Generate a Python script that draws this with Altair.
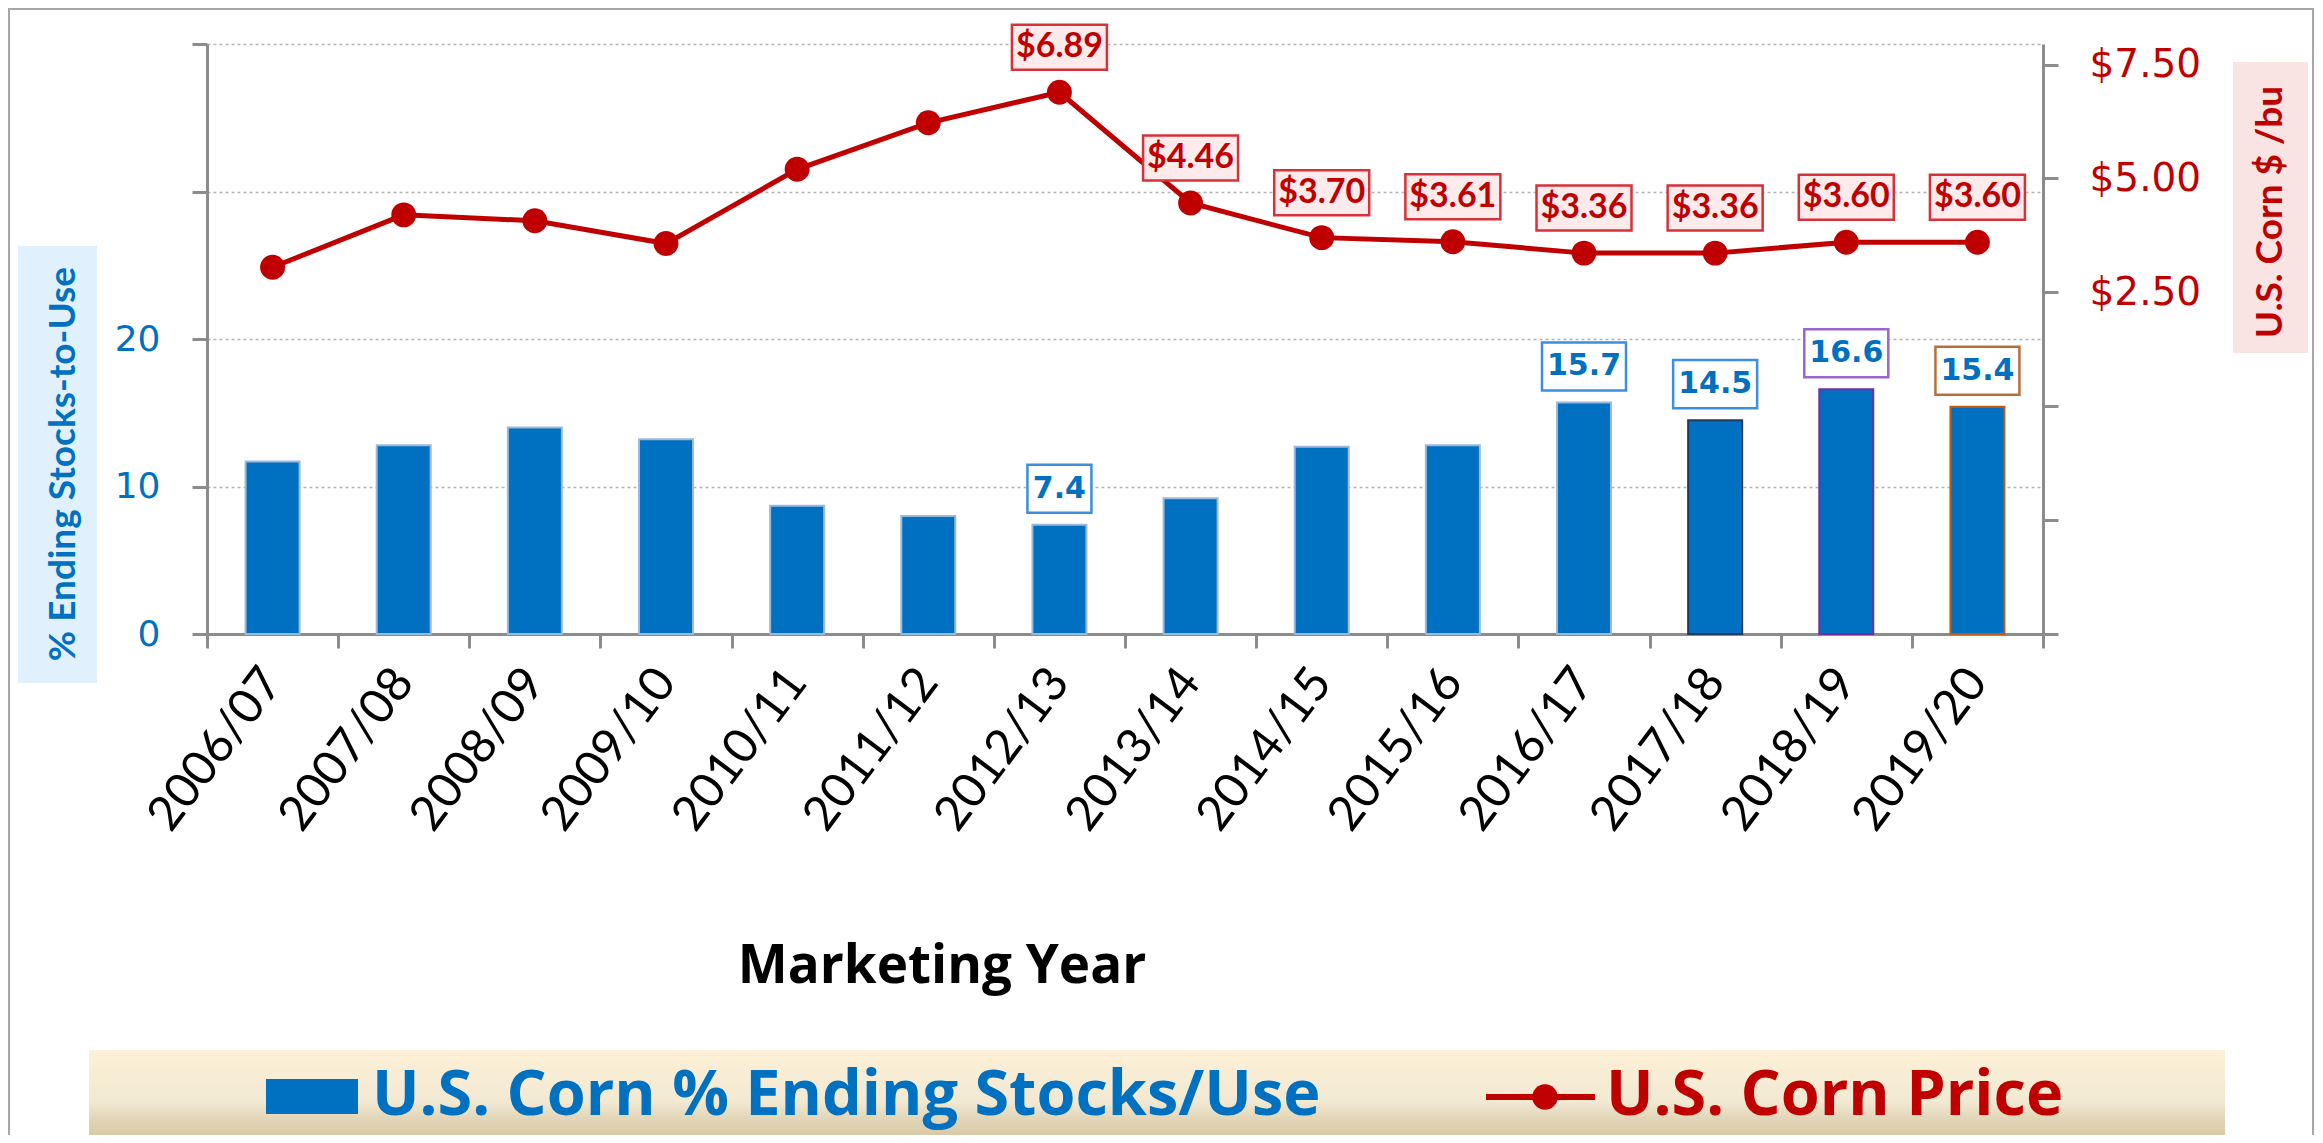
import altair as alt
import pandas as pd

# ---------------- data ----------------
years = ["2006/07", "2007/08", "2008/09", "2009/10", "2010/11", "2011/12", "2012/13",
         "2013/14", "2014/15", "2015/16", "2016/17", "2017/18", "2018/19", "2019/20"]
stocks_to_use = [11.7, 12.8, 14.0, 13.2, 8.7, 8.0, 7.4, 9.2, 12.7, 12.8, 15.7, 14.5, 16.6, 15.4]
corn_price = [3.05, 4.20, 4.07, 3.57, 5.20, 6.22, 6.89, 4.46, 3.70, 3.61, 3.36, 3.36, 3.60, 3.60]
stock_label_years = ["2012/13", "2016/17", "2017/18", "2018/19", "2019/20"]
price_label_years = ["2012/13", "2013/14", "2014/15", "2015/16", "2016/17",
                     "2017/18", "2018/19", "2019/20"]
left_ticks = [0, 10, 20, 30, 40]
right_ticks = [-5, -2.5, 0, 2.5, 5, 7.5]

# ---------------- styles ----------------
BLUE = "#0070c0"
RED = "#c00000"
GREY = "#8c8c8c"
bar_outline_default = "#9db8d9"
bar_outline = {"2017/18": "#1f3864", "2018/19": "#7030a0", "2019/20": "#c55a11"}
stock_box_stroke = {"2012/13": "#3c8fdc", "2016/17": "#3c8fdc", "2017/18": "#3c8fdc",
                    "2018/19": "#9966cc", "2019/20": "#b8703a"}


def box_path(w, h, dy, unit):
    x = w / 2 / unit
    y0 = (dy - h / 2) / unit
    y1 = (dy + h / 2) / unit
    return f"M{-x:.4f},{y0:.4f}L{x:.4f},{y0:.4f}L{x:.4f},{y1:.4f}L{-x:.4f},{y1:.4f}Z"


df = pd.DataFrame({"year": years, "stocks": stocks_to_use, "price": corn_price})
df["outline"] = [bar_outline.get(y, bar_outline_default) for y in years]

sdf = df[df["year"].isin(stock_label_years)].copy()
sdf["label"] = [f"{v:.1f}" for v in sdf["stocks"]]
sdf["boxstroke"] = [stock_box_stroke[y] for y in sdf["year"]]
STOCK_UNIT = 42
sdf["boxshape"] = [box_path(84 if len(l) > 3 else 64, 48, -36, STOCK_UNIT) for l in sdf["label"]]

pdf = df[df["year"].isin(price_label_years)].copy()
pdf["label"] = [f"${v:.2f}" for v in pdf["price"]]
PRICE_UNIT = 47.5
price_shape = box_path(95, 45, -45, PRICE_UNIT)

dummy = pd.DataFrame({"k": [0]})

# ---------------- encodings ----------------
x_axis = alt.Axis(title=None, orient="bottom", labelAngle=-53, labelFont="Lato",
                  labelFontSize=48, labelColor="black", labelPadding=26, labelOverlap=False,
                  labelLimit=0, tickBand="extent", ticks=True, tickSize=14, tickColor=GREY,
                  tickWidth=3, domainColor=GREY, domainWidth=3, grid=False)
X = alt.X("year:N", sort=years,
          scale=alt.Scale(paddingInner=0, paddingOuter=0), axis=x_axis)

left_axis = alt.Axis(orient="left", title=None, values=left_ticks,
                     labelExpr="datum.value <= 20 ? datum.label : ''",
                     labelFont="DejaVu Sans", labelFontSize=36, labelColor=BLUE,
                     labelPadding=32, tickSize=15, tickColor=GREY, tickWidth=3,
                     domainColor=GREY, domainWidth=3, grid=True, gridColor="#b5b5b5",
                     gridDash=[3, 3], gridWidth=1.5)
YL = alt.Y("stocks:Q", scale=alt.Scale(domain=[0, 40], nice=False), axis=left_axis)

right_axis = alt.Axis(orient="right", title=None, values=right_ticks,
                      labelExpr="datum.value > 0 ? '$' + format(datum.value, '.2f') : ''",
                      labelFont="DejaVu Sans", labelFontSize=39, labelColor=RED,
                      labelPadding=31, tickSize=15, tickColor=GREY, tickWidth=3,
                      domainColor=GREY, domainWidth=3, grid=False)
YR = alt.Y("price:Q", scale=alt.Scale(domain=[-5, 7.95], nice=False, zero=False), axis=right_axis)

# ---------------- decorations ----------------
def vrect(x, x2, y, y2, **mk):
    return alt.Chart(dummy).mark_rect(**mk).encode(
        x=alt.value(x), x2=alt.value(x2), y=alt.value(y), y2=alt.value(y2))


def vtext(x, y, text, **mk):
    return alt.Chart(dummy).mark_text(text=text, **mk).encode(x=alt.value(x), y=alt.value(y))


frame = vrect(-198, 2106, -35, 1120, fill=None, fillOpacity=0, stroke="#a6a6a6", strokeWidth=2)
legend_box = vrect(-118, 2018, 1006, 1100, fill={
    "gradient": "linear", "x1": 0, "y1": 0, "x2": 0, "y2": 1,
    "stops": [{"offset": 0, "color": "#fdf0d6"}, {"offset": 0.55, "color": "#f2e9d3"},
              {"offset": 0.72, "color": "#e3d7ba"}, {"offset": 1, "color": "#d2c29e"}]})
left_title_box = vrect(-189, -110, 202, 639, fill="#e0f0fd")
right_title_box = vrect(2026, 2101, 18, 309, fill="#f9e3e3")

left_title = vtext(-143, 420, "% Ending Stocks-to-Use", font="Lato", fontWeight="bold",
                   fontSize=37, color=BLUE, angle=270, align="center", baseline="middle")
right_title = vtext(2064, 168, "U.S. Corn $ /bu", font="Lato", fontWeight="bold",
                    fontSize=37, color=RED, angle=270, align="center", baseline="middle")
x_title = vtext(735, 939, "Marketing Year", font="Open Sans", fontWeight="bold", fontSize=53,
                color="black", align="center", baseline="alphabetic")

leg_blue_rect = vrect(59, 151, 1035, 1070, fill=BLUE)
leg_blue_text = vtext(165, 1071, "U.S. Corn % Ending Stocks/Use", font="Open Sans",
                      fontWeight="bold", fontSize=63, color=BLUE, align="left",
                      baseline="alphabetic")
leg_red_line = alt.Chart(dummy).mark_rule(color=RED, strokeWidth=6).encode(
    x=alt.value(1279), x2=alt.value(1388), y=alt.value(1053))
leg_red_dot = alt.Chart(dummy).mark_point(filled=True, size=650, color=RED, opacity=1).encode(
    x=alt.value(1338), y=alt.value(1053))
leg_red_text = vtext(1399, 1071, "U.S. Corn Price", font="Open Sans", fontWeight="bold",
                     fontSize=63, color=RED, align="left", baseline="alphabetic")

# ---------------- data layers ----------------
bars = alt.Chart(df).mark_bar(color=BLUE, strokeWidth=2, width=54).encode(
    x=X, y=YL, stroke=alt.Stroke("outline:N", scale=None))
stock_boxes = alt.Chart(sdf).mark_point(filled=True, fill="white", size=STOCK_UNIT ** 2 * 4,
                                        strokeWidth=2.5, opacity=1, fillOpacity=1).encode(
    x=X, y=YL, shape=alt.Shape("boxshape:N", scale=None),
    stroke=alt.Stroke("boxstroke:N", scale=None))
stock_text = alt.Chart(sdf).mark_text(font="DejaVu Sans", fontWeight="bold", fontSize=30,
                                      color=BLUE, dy=-36, baseline="middle").encode(
    x=X, y=YL, text="label:N")
stocks_layer = alt.layer(bars, stock_boxes, stock_text)

line = alt.Chart(df).mark_line(color=RED, strokeWidth=5).encode(x=X, y=YR)
points = alt.Chart(df).mark_point(filled=True, size=620, color=RED, opacity=1).encode(x=X, y=YR)
price_boxes = alt.Chart(pdf).mark_point(shape=price_shape, size=PRICE_UNIT ** 2 * 4, filled=True,
                                        fill="#fdeaea", stroke="#d6323a", strokeWidth=2.5,
                                        opacity=1, fillOpacity=1).encode(x=X, y=YR)
price_text = alt.Chart(pdf).mark_text(font="Lato", fontWeight="bold", fontSize=34, color=RED,
                                      dy=-45, baseline="middle").encode(x=X, y=YR, text="label:N")
price_layer = alt.layer(line, points, price_boxes, price_text)

chart = alt.layer(
    frame, legend_box, left_title_box, right_title_box,
    stocks_layer, price_layer,
    left_title, right_title, x_title,
    leg_blue_rect, leg_blue_text, leg_red_line, leg_red_dot, leg_red_text,
).resolve_scale(y="independent").properties(
    width=1836, height=590,
    padding={"left": 199, "top": 36, "right": 272, "bottom": 501},
    autosize=alt.AutoSizeParams(type="none"),
    background="white",
).configure_view(stroke=None)

chart.save("out.html", embed_options={"renderer": "svg", "actions": False})
